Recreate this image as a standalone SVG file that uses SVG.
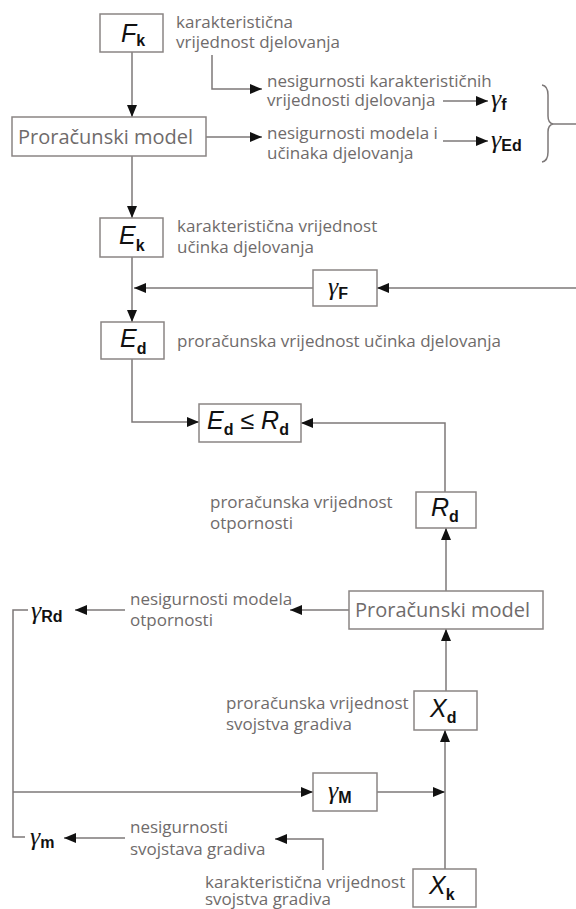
<svg xmlns="http://www.w3.org/2000/svg" width="576" height="909" viewBox="0 0 576 909">
<defs>
<marker id="ah" viewBox="0 0 12 10" refX="12" refY="5" markerWidth="12" markerHeight="10" markerUnits="userSpaceOnUse" orient="auto">
<path d="M0,0 L12,5 L0,10 Z" fill="#111"/>
</marker>
<style>
.box{fill:#fff;stroke:#8a8584;stroke-width:1.5}
.ln{fill:none;stroke:#7d7878;stroke-width:1.5}
.ar{fill:none;stroke:#7d7878;stroke-width:1.5;marker-end:url(#ah)}
.t{font-family:"Open Sans","Noto Sans",sans-serif;font-size:17px;fill:#6f6b6b}
.pm{font-family:"Open Sans","Noto Sans",sans-serif;font-size:20px;fill:#6f6b6b}
.m{font-family:"Liberation Sans",Arial,sans-serif;font-style:italic;font-size:25px;fill:#111}
.s{font-family:"Liberation Sans",Arial,sans-serif;font-style:normal;font-weight:bold;font-size:16px;fill:#111}
.g{font-family:"Liberation Serif","Times New Roman",serif;font-style:italic;font-size:26px;fill:#111}
</style>
</defs>
<rect width="576" height="909" fill="#fff"/>

<g id="connectors">
<path class="ar" d="M132,52 V117"/>
<path class="ar" d="M212,55 V89 H262"/>
<path class="ar" d="M206,137 H262"/>
<path class="ar" d="M443,101 H488"/>
<path class="ar" d="M443,141 H488"/>
<path class="ln" d="M542,85 Q548,86 548,95 V116 Q548,123 553,124 Q548,125 548,132 V152 Q548,161 542,162"/>
<path class="ln" d="M553,124 H576"/>
<path class="ar" d="M132,156 V218"/>
<path class="ar" d="M576,288 H377"/>
<path class="ar" d="M313,288 H134"/>
<path class="ar" d="M132,257 V322"/>
<path class="ar" d="M132,359 V422 H199"/>
<path class="ar" d="M445,492 V423 H301"/>
<path class="ar" d="M446,591 V528"/>
<path class="ar" d="M446,691 V629"/>
<path class="ar" d="M349,610 H290"/>
<path class="ar" d="M125,610 H75"/>
<path class="ln" d="M28,610 H13 V837 H25"/>
<path class="ar" d="M13,792 H313"/>
<path class="ar" d="M377,792 H445"/>
<path class="ar" d="M445,869 V730"/>
<path class="ar" d="M323,870 V839 H275"/>
<path class="ar" d="M125,838 H64"/>
</g>

<g id="Fk">
<rect class="box" x="100" y="14" width="63" height="38"/>
<text x="121" y="42"><tspan class="m">F</tspan><tspan class="s" dy="4">k</tspan></text>
</g>
<g id="Fk-label">
<text class="t" x="176" y="28">karakteristična</text>
<text class="t" x="176" y="48">vrijednost djelovanja</text>
</g>

<g id="model1">
<rect class="box" x="12" y="117" width="194" height="39"/>
<text class="pm" x="18" y="144">Proračunski model</text>
</g>

<g id="unc1">
<text class="t" x="267" y="87">nesigurnosti karakterističnih</text>
<text class="t" x="267" y="106">vrijednosti djelovanja</text>
</g>
<g id="unc2">
<text class="t" x="267" y="139">nesigurnosti modela i</text>
<text class="t" x="267" y="159">učinaka djelovanja</text>
</g>
<g id="gf">
<text x="491" y="107"><tspan class="g">γ</tspan><tspan class="s" dy="3">f</tspan></text>
</g>
<g id="gEd">
<text x="491" y="148"><tspan class="g">γ</tspan><tspan class="s" dy="3">Ed</tspan></text>
</g>

<g id="Ek">
<rect class="box" x="100" y="218" width="63" height="39"/>
<text x="119" y="244"><tspan class="m">E</tspan><tspan class="s" dy="7">k</tspan></text>
</g>
<g id="Ek-label">
<text class="t" x="177" y="232">karakteristična vrijednost</text>
<text class="t" x="177" y="253">učinka djelovanja</text>
</g>

<g id="gF">
<rect class="box" x="313" y="270" width="64" height="36"/>
<text x="328" y="295"><tspan class="g">γ</tspan><tspan class="s" dy="4">F</tspan></text>
</g>

<g id="Ed">
<rect class="box" x="101" y="322" width="63" height="37"/>
<text x="120" y="347"><tspan class="m">E</tspan><tspan class="s" dy="7">d</tspan></text>
</g>
<g id="Ed-label">
<text class="t" x="177" y="347">proračunska vrijednost učinka djelovanja</text>
</g>

<g id="check">
<rect class="box" x="199" y="404" width="102" height="38"/>
<text x="207" y="429"><tspan class="m">E</tspan><tspan class="s" dy="6">d</tspan><tspan class="m" font-style="normal" font-size="22px" dy="-6"> ≤ </tspan><tspan class="m">R</tspan><tspan class="s" dy="6">d</tspan></text>
</g>

<g id="Rd">
<rect class="box" x="416" y="492" width="60" height="36"/>
<text x="431" y="516"><tspan class="m">R</tspan><tspan class="s" dy="6">d</tspan></text>
</g>
<g id="Rd-label">
<text class="t" x="210" y="508">proračunska vrijednost</text>
<text class="t" x="210" y="529">otpornosti</text>
</g>

<g id="model2">
<rect class="box" x="349" y="591" width="194" height="38"/>
<text class="pm" x="355" y="617">Proračunski model</text>
</g>
<g id="unc3">
<text class="t" x="130" y="605">nesigurnosti modela</text>
<text class="t" x="130" y="626">otpornosti</text>
</g>
<g id="gRd">
<text x="31" y="619"><tspan class="g">γ</tspan><tspan class="s" dy="3">Rd</tspan></text>
</g>

<g id="Xd">
<rect class="box" x="414" y="691" width="63" height="39"/>
<text x="430" y="717"><tspan class="m">X</tspan><tspan class="s" dy="6">d</tspan></text>
</g>
<g id="Xd-label">
<text class="t" x="226" y="709">proračunska vrijednost</text>
<text class="t" x="226" y="730">svojstva gradiva</text>
</g>

<g id="gM">
<rect class="box" x="313" y="773" width="64" height="38"/>
<text x="328" y="799"><tspan class="g">γ</tspan><tspan class="s" dy="4">M</tspan></text>
</g>

<g id="gm">
<text x="30" y="845"><tspan class="g">γ</tspan><tspan class="s" dy="3">m</tspan></text>
</g>
<g id="unc4">
<text class="t" x="130" y="833">nesigurnosti</text>
<text class="t" x="130" y="855">svojstava gradiva</text>
</g>

<g id="Xk">
<rect class="box" x="413" y="869" width="63" height="38"/>
<text x="429" y="894"><tspan class="m">X</tspan><tspan class="s" dy="6">k</tspan></text>
</g>
<g id="Xk-label">
<text class="t" x="205" y="888">karakteristična vrijednost</text>
<text class="t" x="205" y="905">svojstva gradiva</text>
</g>
</svg>
